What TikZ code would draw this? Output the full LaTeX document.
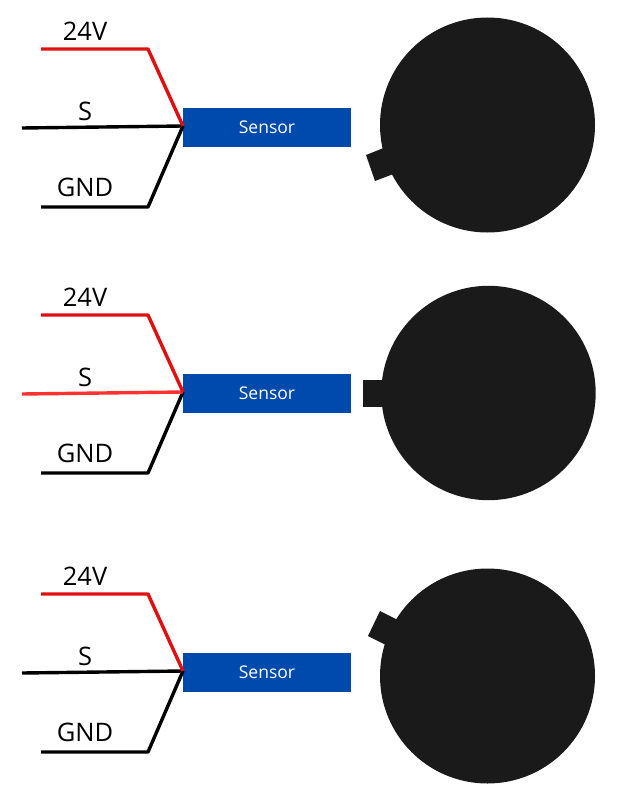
\documentclass[tikz,border=0pt]{standalone}
\usepackage{fontspec}
\setmainfont{Open Sans}
\definecolor{wirered}{HTML}{E01010}
\definecolor{sigred}{HTML}{FF3030}
\definecolor{sensorblue}{HTML}{004AAD}
\definecolor{disc}{HTML}{1A1A1A}
\tikzset{
  wire/.style={line width=3.4pt,line cap=butt,line join=round},
  sensorbox/.style={fill=sensorblue,draw=none,inner sep=0pt,minimum width=168pt,minimum height=39pt,text=white,font=\fontsize{17.5pt}{19pt}\selectfont},
  wirelabel/.style={text=black,inner sep=0pt,font=\fontsize{25.5pt}{28pt}\selectfont},
  discshape/.style={fill=disc,draw=none}
}
\newcommand{\sensorrow}[3]{%
  \begin{scope}[yshift=-#2pt]
    \node[sensorbox] (box#1) at (267,127.5) {\raisebox{-0.6pt}{Sensor}};
    \coordinate (join#1) at (183,126);
    \coordinate (redstart#1) at (41,49);
    \coordinate (redbend#1) at (148,49);
    \coordinate (sigstart#1) at (22,128);
    \coordinate (gndstart#1) at (41,207);
    \coordinate (gndbend#1) at (148,207);
    \draw[wire,black] (gndstart#1) -- (gndbend#1) -- (join#1);
    \draw[wire,#3] (sigstart#1) -- (join#1);
    \draw[wire,wirered] (redstart#1) -- (redbend#1) -- (join#1);
    \node[wirelabel] (v#1) at (85,31.6) {24V};
    \node[wirelabel] (s#1) at (85,111.6) {S};
    \node[wirelabel] (g#1) at (85,187.6) {GND};
  \end{scope}
}
\begin{document}
\begin{tikzpicture}[x=1pt,y=-1pt]
\useasboundingbox (0,0) rectangle (619,792);
\sensorrow{a}{0}{black}
\sensorrow{b}{266}{sigred}
\sensorrow{c}{545}{black}
\fill[discshape] (487.5,125) circle[radius=107.5];
\fill[discshape] (366,155) -- (375,181) -- (396,173) -- (386,147) -- cycle;
\fill[discshape] (488.5,393) circle[radius=107.2];
\fill[discshape] (363,380) -- (363,407) -- (388,407) -- (388,380) -- cycle;
\fill[discshape] (487.5,676) circle[radius=107.5];
\fill[discshape] (380,611) -- (368,636) -- (388,646) -- (400,621) -- cycle;
\end{tikzpicture}
\end{document}
